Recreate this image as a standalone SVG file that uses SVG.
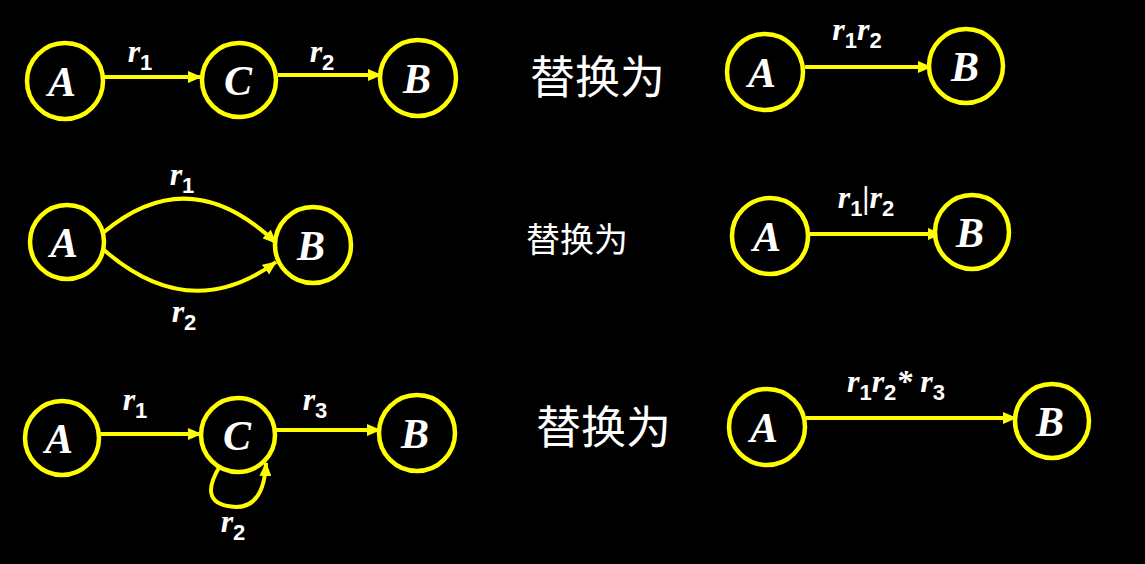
<svg xmlns="http://www.w3.org/2000/svg" width="1145" height="564" viewBox="0 0 1145 564">
<defs>
<marker id="ah" markerWidth="14" markerHeight="12" refX="13" refY="6" orient="auto" markerUnits="userSpaceOnUse" viewBox="0 0 14 12"><path d="M0,0 L14,6 L0,12 z" fill="#ffff00"/></marker>
<style>
.n{fill:#000;stroke:#ffff00;stroke-width:4.5}
.t{font-family:"Liberation Serif",serif;font-style:italic;font-weight:bold;fill:#fff;text-anchor:middle}
.nl{font-size:42px}
.l{font-size:32px}
.s{font-family:"Liberation Sans",sans-serif;font-style:normal;font-size:22px}
.e{fill:none;stroke:#ffff00;stroke-width:4;marker-end:url(#ah)}
.c{font-family:"Noto Sans CJK SC",sans-serif;fill:#fff}
</style>
</defs>
<rect width="1145" height="564" fill="#000"/>
<g id="connectors">
<path class="e" d="M103,77 L201,77"/>
<path class="e" d="M278,75 L381,75"/>
<path class="e" d="M805,67 L931,67"/>
<path class="e" d="M104,232 Q190,160 276,243"/>
<path class="e" d="M104,250 Q190,325 276,262"/>
<path class="e" d="M809,234 L941,234"/>
<path class="e" d="M100,434 L201,434"/>
<path class="e" d="M276,430 L380,430"/>
<path class="e" d="M220,466 Q196,505 236,507 Q264,507 266,463"/>
<path class="e" d="M806,418 L1016,418"/>
</g>
<g id="A1"><circle class="n" cx="65" cy="81" r="38"/><text class="t nl" x="62" y="96">A</text></g>
<g id="C1"><circle class="n" cx="239" cy="80" r="37"/><text class="t nl" x="238" y="95">C</text></g>
<g id="B1"><circle class="n" cx="418" cy="78" r="38"/><text class="t nl" x="417" y="93">B</text></g>
<g id="A1r"><circle class="n" cx="765" cy="72" r="38"/><text class="t nl" x="762" y="87">A</text></g>
<g id="B1r"><circle class="n" cx="966" cy="66" r="37"/><text class="t nl" x="965" y="81">B</text></g>
<g id="A2"><circle class="n" cx="67" cy="242" r="37"/><text class="t nl" x="64" y="257">A</text></g>
<g id="B2"><circle class="n" cx="313" cy="245" r="38"/><text class="t nl" x="311" y="260">B</text></g>
<g id="A2r"><circle class="n" cx="770" cy="236" r="38"/><text class="t nl" x="767" y="251">A</text></g>
<g id="B2r"><circle class="n" cx="972" cy="232" r="37"/><text class="t nl" x="970" y="247">B</text></g>
<g id="A3"><circle class="n" cx="62" cy="438" r="37"/><text class="t nl" x="59" y="453">A</text></g>
<g id="C3"><circle class="n" cx="238" cy="435" r="37"/><text class="t nl" x="237" y="450">C</text></g>
<g id="B3"><circle class="n" cx="417" cy="433" r="38"/><text class="t nl" x="415" y="448">B</text></g>
<g id="A3r"><circle class="n" cx="767" cy="427" r="38"/><text class="t nl" x="764" y="442">A</text></g>
<g id="B3r"><circle class="n" cx="1052" cy="421" r="37"/><text class="t nl" x="1050" y="436">B</text></g>
<g id="labels">
<text class="t l" x="140" y="62">r<tspan class="s" dy="8">1</tspan></text>
<text class="t l" x="322" y="62">r<tspan class="s" dy="8">2</tspan></text>
<text class="t l" x="857" y="40">r<tspan class="s" dy="8">1</tspan><tspan dy="-8">r</tspan><tspan class="s" dy="8">2</tspan></text>
<text class="t l" x="182" y="185">r<tspan class="s" dy="8">1</tspan></text>
<text class="t l" x="184" y="322">r<tspan class="s" dy="8">2</tspan></text>
<text class="t l" x="866" y="208">r<tspan class="s" dy="8">1</tspan><tspan dy="-8">|r</tspan><tspan class="s" dy="8">2</tspan></text>
<text class="t l" x="135" y="410">r<tspan class="s" dy="8">1</tspan></text>
<text class="t l" x="315" y="410">r<tspan class="s" dy="8">3</tspan></text>
<text class="t l" x="233" y="532">r<tspan class="s" dy="8">2</tspan></text>
<text class="t l" x="896" y="392">r<tspan class="s" dy="8">1</tspan><tspan dy="-8">r</tspan><tspan class="s" dy="8">2</tspan><tspan dy="-8">* r</tspan><tspan class="s" dy="8">3</tspan></text>
<text class="c" x="530" y="94" font-size="45">替换为</text>
<text class="c" x="526" y="252" font-size="34">替换为</text>
<text class="c" x="536" y="444" font-size="45">替换为</text>
</g>
</svg>
